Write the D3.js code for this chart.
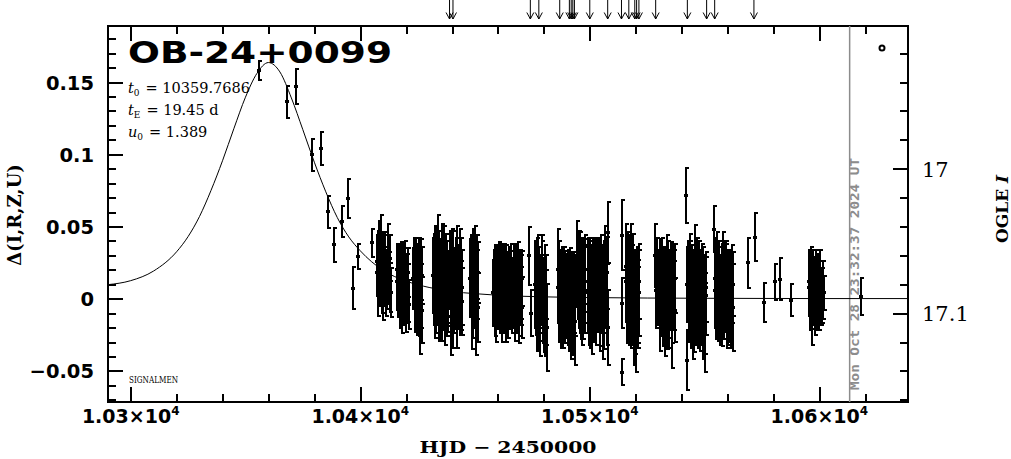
<!DOCTYPE html>
<html><head><meta charset="utf-8">
<script src="https://cdn.jsdelivr.net/npm/d3@7"></script>
<style>body{margin:0;background:#fff}svg{display:block}</style>
</head><body>
<svg id="c" width="1011" height="459"></svg>
<script>
// ---------- data ----------
const eventName = "OB-24+0099";
const params = [["t","0","= 10359.7686"],["t","E","= 19.45 d"],["u","0","= 1.389"]];
const xDomain = [10289.9, 10638.4];
const yDomain = [-0.0715, 0.1888];
const magDomain = [17.1615, 16.9012];
const xMajorTicks = [10300, 10400, 10500, 10600];
const xMinorTicks = [10320,10340,10360,10380,10420,10440,10460,10480,10520,10540,10560,10580,10620];
const yMajorTicks = [-0.05, 0, 0.05, 0.1, 0.15];
const yTickLabels = ["\u22120.05", "0", "0.05", "0.1", "0.15"];
const yMinorTicks = [-0.07,-0.06,-0.04,-0.03,-0.02,-0.01,0.01,0.02,0.03,0.04,0.06,0.07,0.08,0.09,0.11,0.12,0.13,0.14,0.16,0.17,0.18];
const magMajorTicks = [17.0, 17.1];
const magTickLabels = ["17", "17.1"];
const magMinorTicks = [16.92,16.94,16.96,16.98,17.02,17.04,17.06,17.08,17.12,17.14,17.16];
const nowHJD = 10613.2;
const nowLabel = "Mon Oct 28 23:32:37 2024 UT";
const arrowHJD = [10438.9,10440.4,10474.1,10477.8,10486.9,10491.1,10491.9,10492.6,10493.3,10500.0,10507.8,10513.8,10517.0,10519.6,10520.4,10521.4,10528.7,10542.5,10550.9,10554.4,10571.5];

// model curve
const modelT = [10289.9,10300,10310,10320,10325,10330,10335,10340,10345,10350,10355,10360,10365,10370,10375,10380,10385,10390,10395,10400,10410,10420,10430,10440,10450,10460,10480,10500,10550,10600,10638.4];
const modelDelta = [0.0097,0.0125,0.0192,0.0325,0.0430,0.0570,0.0750,0.0955,0.1180,0.1395,0.1560,0.1635,0.1570,0.1390,0.1170,0.0945,0.0740,0.0562,0.0428,0.0332,0.0196,0.0122,0.0078,0.0050,0.0035,0.0024,0.0013,0.0008,0.0003,0.0001,0.0001];

// observations: HJD-2450000, delta flux, error
const hjd = [
10356.1,10368.0,10371.9,10379.1,10382.9,10386.1,10388.7,10391.9,10394.8,10397.0,10398.9,10405.0,
10407.2,10407.6,10408.0,10408.5,10409.0,10409.4,10409.9,10410.3,10410.8,10411.3,10411.8,10412.3,10412.8,10413.2,
10416.0,10416.5,10417.0,10417.5,10418.0,10418.6,10419.1,10419.6,10420.1,10420.6,10421.1,
10423.2,10423.7,10424.2,10424.7,10425.2,10425.7,10426.2,10426.6,10426.9,
10431.8,10432.2,10432.6,10433.0,10433.4,10433.8,10434.2,10434.6,10435.0,10435.4,10435.8,10436.2,10436.6,10437.0,10437.4,10437.8,10438.2,
10439.3,10439.7,10440.1,10440.6,10441.0,10441.5,10442.0,10442.5,10443.0,10443.5,10444.0,10444.5,
10448.0,10448.5,10449.0,10449.5,10450.0,10450.5,10451.0,10451.5,
10458.0,10458.6,10459.2,10459.8,10460.4,10461.0,10461.6,10462.2,10462.8,10463.4,10464.0,10464.6,10465.2,10465.8,10466.3,
10466.8,10467.3,10467.8,10468.4,10469.0,10469.6,10470.1,10470.6,
10473.5,10474.5,
10476.3,10476.8,10477.3,10477.8,10478.3,10478.8,10479.3,10479.8,10480.3,10480.8,10481.2,
10486.0,10486.5,10487.0,10487.6,10488.2,10488.8,10489.4,10490.0,
10490.6,10491.1,10491.6,10492.1,10492.6,10493.1,10493.6,
10494.6,10495.1,10495.6,10496.1,10496.6,10497.1,10497.6,10498.0,
10499.0,10499.5,10500.0,10500.5,10501.0,10501.6,10502.2,10502.8,10503.3,
10503.8,10504.3,10504.8,10505.3,10505.8,10506.3,10506.8,10507.3,10507.8,10508.0,
10514.0,10514.2,10514.1,
10515.6,10516.1,10516.6,10517.1,10517.6,10518.1,10518.6,10519.1,10519.6,10520.1,10520.6,10521.1,10521.6,
10528.2,10528.8,10529.4,
10530.2,10530.8,10531.4,10532.0,10532.6,10533.2,10533.8,10534.4,10535.0,10535.6,10536.2,10536.8,10537.3,
10542.0,10542.2,10542.3,
10542.8,10543.3,10543.8,10544.3,10544.8,10545.3,10545.8,10546.3,10546.8,10547.3,10547.8,10548.3,10548.8,10549.3,10549.8,10550.3,10550.8,
10554.0,
10554.4,10555.0,10555.6,10556.2,10556.8,10557.4,10558.0,10558.6,10559.2,10559.8,10560.4,10561.0,10561.6,10562.2,10562.6,
10568.8,10571.8,10575.8,10580.6,10582.7,10587.5,
10595.4,10596.0,10596.6,10597.2,10597.8,10598.4,10599.0,10599.6,10600.2,10600.8,10601.4,10601.9,
10618.1];
const delta = [
0.158,0.1364,0.1468,0.0995,0.1037,0.0602,0.0372,0.0533,0.0693,0.0074,0.0291,0.0388,
0.018,0.030,0.010,0.024,0.036,0.006,0.020,0.014,0.028,0.002,0.016,0.032,0.008,0.004,
0.012,0.004,0.018,-0.002,0.010,0.020,0.000,0.014,0.006,0.018,-0.004,
0.014,0.004,0.020,-0.006,0.010,0.024,-0.012,0.002,0.016,
0.016,0.004,0.026,-0.004,0.010,0.030,-0.008,0.018,0.002,0.022,-0.010,0.012,0.028,0.000,0.016,-0.006,0.008,
0.020,-0.012,0.006,0.024,-0.004,0.012,0.030,0.002,0.016,-0.006,0.020,0.008,
0.014,-0.010,0.024,0.002,0.030,-0.014,0.010,0.018,
0.004,0.016,-0.006,0.010,0.020,-0.002,0.012,0.006,0.018,-0.008,0.008,0.014,0.000,0.010,-0.004,
0.012,-0.002,0.018,0.004,-0.010,0.010,0.002,0.014,
0.0296,-0.0099,
0.010,-0.008,0.016,0.000,-0.014,0.006,0.020,-0.004,-0.016,0.008,-0.020,
0.020,-0.004,0.012,-0.010,0.004,0.016,-0.006,0.008,
-0.002,0.006,-0.012,0.002,-0.008,0.004,-0.016,
0.024,0.004,0.018,-0.006,0.012,-0.002,0.016,0.006,
0.012,-0.006,0.016,0.000,-0.010,0.010,0.020,-0.004,0.008,
0.014,-0.008,0.020,0.002,-0.012,0.010,0.026,-0.004,0.046,-0.020,
0.044,-0.003,-0.051,
0.022,0.004,0.016,-0.008,0.010,0.026,-0.002,-0.016,0.008,-0.020,0.012,-0.006,0.004,
0.030,0.006,0.012,
0.008,-0.006,0.014,0.000,-0.012,0.010,0.020,-0.004,0.006,-0.016,0.012,0.002,-0.008,
0.0717,0.010,-0.0425,
0.012,-0.004,0.020,0.002,-0.014,0.010,0.030,-0.006,0.016,-0.010,0.006,-0.002,0.014,-0.012,0.004,-0.020,0.008,
0.048,
0.014,-0.004,0.020,0.006,-0.010,0.010,0.022,-0.002,0.008,-0.008,0.012,0.000,0.004,-0.006,0.010,
0.0249,0.0427,-0.0028,0.0118,0.0136,-0.0009,
0.012,0.004,-0.008,0.016,0.002,0.010,-0.002,0.008,0.014,0.000,0.006,0.004,
0.0014];
const sigma = [
0.0064,0.011,0.012,0.011,0.0114,0.011,0.012,0.0107,0.0135,0.0147,0.0087,0.0098,
0.016,0.017,0.015,0.018,0.022,0.016,0.017,0.019,0.016,0.014,0.018,0.020,0.017,0.017,
0.020,0.017,0.020,0.018,0.022,0.019,0.018,0.021,0.023,0.017,0.017,
0.021,0.020,0.022,0.019,0.024,0.018,0.026,0.022,0.020,
0.026,0.022,0.024,0.020,0.025,0.028,0.021,0.023,0.024,0.020,0.019,0.026,0.022,0.022,0.024,0.020,0.025,
0.027,0.027,0.022,0.023,0.020,0.024,0.020,0.023,0.021,0.019,0.022,0.026,
0.027,0.025,0.024,0.022,0.020,0.025,0.024,0.021,
0.023,0.021,0.024,0.026,0.019,0.022,0.025,0.030,0.020,0.022,0.024,0.022,0.021,0.023,0.020,
0.026,0.022,0.020,0.027,0.021,0.024,0.020,0.019,
0.020,0.016,
0.030,0.028,0.028,0.024,0.026,0.024,0.024,0.027,0.024,0.022,0.030,
0.028,0.026,0.022,0.024,0.027,0.020,0.025,0.023,
0.030,0.024,0.030,0.026,0.024,0.028,0.030,
0.030,0.024,0.028,0.022,0.030,0.026,0.025,0.030,
0.030,0.026,0.026,0.030,0.028,0.024,0.022,0.028,0.026,
0.028,0.028,0.024,0.026,0.030,0.030,0.024,0.028,0.021,0.026,
0.024,0.017,0.009,
0.030,0.028,0.030,0.024,0.028,0.026,0.030,0.030,0.026,0.031,0.024,0.028,0.030,
0.022,0.026,0.030,
0.026,0.030,0.028,0.024,0.028,0.026,0.024,0.030,0.028,0.032,0.026,0.024,0.022,
0.019,0.026,0.0208,
0.028,0.026,0.025,0.030,0.028,0.024,0.021,0.026,0.026,0.024,0.028,0.030,0.024,0.030,0.026,0.031,0.024,
0.016,
0.028,0.024,0.026,0.030,0.022,0.028,0.024,0.026,0.030,0.026,0.022,0.030,0.028,0.030,0.022,
0.0173,0.0163,0.0135,0.0125,0.0145,0.011,
0.022,0.026,0.024,0.018,0.020,0.024,0.020,0.016,0.020,0.018,0.020,0.012,
0.013];

// further observations inside the dense nightly groups
const hjdDense = [
10407.4,10407.8,10408.2,10408.8,10409.2,10409.7,10410.1,10410.6,10411.0,10411.6,10412.0,10412.6,10413.0,
10416.2,10416.8,10417.3,10417.8,10418.3,10418.9,10419.4,10419.9,10420.4,10420.9,
10423.4,10423.9,10424.4,10424.9,10425.4,10425.9,10426.4,10426.8,
10432.0,10432.4,10432.8,10433.2,10433.6,10434.0,10434.4,10434.8,10435.2,10435.6,10436.0,10436.4,10436.8,10437.2,10437.6,10438.0,10438.4,
10439.5,10439.9,10440.3,10440.8,10441.3,10441.8,10442.3,10442.8,10443.3,10443.8,10444.3,
10448.3,10448.8,10449.3,10449.8,10450.3,10450.8,10451.3,
10458.3,10458.9,10459.5,10460.1,10460.7,10461.3,10461.9,10462.5,10463.1,10463.7,10464.3,10464.9,10465.5,10466.0,
10466.6,10467.1,10467.6,10468.1,10468.7,10469.3,10469.9,10470.4,
10476.5,10477.0,10477.5,10478.0,10478.5,10479.0,10479.5,10480.0,10480.5,10481.0,
10486.2,10486.8,10487.3,10487.9,10488.5,10489.1,10489.7,
10490.4,10490.9,10491.4,10491.9,10492.4,10492.9,10493.4,
10494.8,10495.3,10495.8,10496.3,10496.8,10497.3,10497.8,
10499.2,10499.7,10500.2,10500.8,10501.3,10501.9,10502.5,10503.0,
10503.6,10504.1,10504.6,10505.1,10505.6,10506.1,10506.6,10507.1,10507.6,
10515.8,10516.3,10516.8,10517.3,10517.8,10518.3,10518.8,10519.3,10519.8,10520.3,10520.8,10521.3,
10530.5,10531.1,10531.7,10532.3,10532.9,10533.5,10534.1,10534.7,10535.3,10535.9,10536.5,10537.0,
10543.0,10543.5,10544.0,10544.5,10545.0,10545.5,10546.0,10546.5,10547.0,10547.5,10548.0,10548.5,10549.0,10549.5,10550.0,10550.5,
10554.7,10555.3,10555.9,10556.5,10557.1,10557.7,10558.3,10558.9,10559.5,10560.1,10560.7,10561.3,10561.9,
10595.7,10596.3,10596.9,10597.5,10598.1,10598.7,10599.3,10599.9,10600.5,10601.1];
const deltaDense = [
0.026,0.004,0.034,0.012,0.022,0.030,0.000,0.018,0.026,0.010,0.022,0.014,0.028,
0.020,0.008,0.014,0.022,-0.004,0.008,0.018,-0.006,0.012,0.004,
0.022,-0.002,0.012,0.018,-0.004,0.008,0.020,-0.008,
0.022,-0.002,0.012,0.024,0.004,0.014,0.026,-0.004,0.010,0.030,0.004,0.020,-0.008,0.024,0.006,0.018,0.000,
0.008,0.026,-0.008,0.014,0.004,0.020,-0.010,0.010,0.026,0.002,-0.002,
0.020,0.006,-0.004,0.016,0.008,0.022,-0.006,
0.012,-0.002,0.016,0.004,0.010,0.018,-0.006,0.012,0.002,0.016,-0.004,0.006,0.018,0.004,
0.004,0.016,-0.006,0.010,0.020,-0.002,0.008,-0.006,
0.002,0.018,-0.010,0.008,-0.004,0.014,0.004,-0.010,0.012,-0.006,
0.008,0.018,0.002,0.012,-0.008,0.010,0.000,
0.008,-0.008,0.010,-0.004,0.006,-0.012,0.002,
0.012,0.020,0.004,0.014,-0.004,0.010,0.020,
0.004,0.014,-0.004,0.010,0.018,-0.002,0.006,0.016,
0.004,0.016,-0.004,0.012,0.004,-0.008,0.014,0.006,0.018,
0.012,-0.004,0.008,0.018,-0.006,0.010,0.016,0.002,-0.010,0.006,-0.002,0.012,
0.014,0.002,-0.006,0.010,0.002,-0.008,0.012,0.000,0.010,-0.004,0.006,0.014,
0.006,0.014,-0.006,0.010,0.002,-0.010,0.012,0.004,-0.004,0.014,-0.008,0.006,0.000,0.010,-0.010,0.002,
0.006,0.012,-0.002,0.014,0.002,-0.006,0.012,0.004,0.014,-0.004,0.006,-0.008,0.010,
0.008,0.014,0.000,0.010,-0.004,0.006,0.012,-0.002,0.008,0.002];
const sigmaDense = [
0.018,0.016,0.020,0.017,0.019,0.016,0.015,0.018,0.020,0.017,0.015,0.018,0.016,
0.018,0.020,0.019,0.017,0.020,0.018,0.022,0.017,0.019,0.020,
0.020,0.021,0.023,0.020,0.022,0.024,0.021,0.023,
0.023,0.025,0.021,0.026,0.022,0.024,0.021,0.025,0.023,0.022,0.024,0.023,0.024,0.021,0.025,0.022,0.023,
0.024,0.022,0.026,0.021,0.025,0.022,0.024,0.023,0.022,0.024,0.023,
0.024,0.025,0.023,0.024,0.026,0.022,0.024,
0.022,0.024,0.021,0.025,0.023,0.020,0.024,0.022,0.025,0.021,0.023,0.024,0.020,0.022,
0.024,0.021,0.023,0.022,0.019,0.024,0.022,0.021,
0.027,0.024,0.026,0.028,0.025,0.026,0.024,0.027,0.025,0.026,
0.025,0.022,0.027,0.024,0.026,0.023,0.027,
0.026,0.028,0.025,0.030,0.026,0.027,0.028,
0.026,0.027,0.028,0.025,0.028,0.027,0.024,
0.028,0.026,0.030,0.027,0.024,0.028,0.026,0.025,
0.027,0.026,0.029,0.025,0.028,0.027,0.028,0.026,0.025,
0.028,0.027,0.029,0.026,0.028,0.027,0.029,0.027,0.028,0.027,0.029,0.026,
0.027,0.028,0.027,0.026,0.029,0.027,0.028,0.027,0.029,0.027,0.028,0.024,
0.027,0.026,0.028,0.027,0.029,0.027,0.028,0.027,0.029,0.026,0.028,0.027,0.029,0.026,0.028,0.027,
0.026,0.028,0.027,0.026,0.028,0.027,0.028,0.027,0.026,0.028,0.027,0.026,0.027,
0.020,0.022,0.021,0.019,0.021,0.020,0.019,0.020,0.018,0.019];

// ---------- drawing ----------
const svg = d3.select("#c");
const L = 107.5, R = 907.5, T = 26, B = 402;
const x = d3.scaleLinear().domain(xDomain).range([L, R]);
const y = d3.scaleLinear().domain(yDomain).range([B, T]);
const yMag = d3.scaleLinear().domain(magDomain).range([B, T]);

svg.append("rect").attr("width",1011).attr("height",459).attr("fill","#fff");
svg.append("defs").append("clipPath").attr("id","clip")
  .append("rect").attr("x",L).attr("y",T).attr("width",R-L).attr("height",B-T);

function styleAxis(g){ g.select(".domain").remove(); g.selectAll("line").attr("stroke","#000").attr("stroke-width",2).attr("shape-rendering","crispEdges"); g.selectAll("text").remove(); }
svg.append("g").attr("transform",`translate(0,${B})`).call(d3.axisBottom(x).tickValues(xMajorTicks).tickSize(-15)).call(styleAxis);
svg.append("g").attr("transform",`translate(0,${B})`).call(d3.axisBottom(x).tickValues(xMinorTicks).tickSize(-8)).call(styleAxis);
svg.append("g").attr("transform",`translate(0,${T})`).call(d3.axisTop(x).tickValues(xMajorTicks).tickSize(-15)).call(styleAxis);
svg.append("g").attr("transform",`translate(0,${T})`).call(d3.axisTop(x).tickValues(xMinorTicks).tickSize(-8)).call(styleAxis);
svg.append("g").attr("transform",`translate(${L},0)`).call(d3.axisLeft(y).tickValues(yMajorTicks).tickSize(-15)).call(styleAxis);
svg.append("g").attr("transform",`translate(${L},0)`).call(d3.axisLeft(y).tickValues(yMinorTicks).tickSize(-8)).call(styleAxis);
svg.append("g").attr("transform",`translate(${R},0)`).call(d3.axisRight(yMag).tickValues(magMajorTicks).tickSize(-15)).call(styleAxis);
svg.append("g").attr("transform",`translate(${R},0)`).call(d3.axisRight(yMag).tickValues(magMinorTicks).tickSize(-8)).call(styleAxis);

svg.append("rect").attr("x",L).attr("y",T).attr("width",R-L).attr("height",B-T)
  .attr("fill","none").attr("stroke","#000").attr("stroke-width",2).attr("shape-rendering","crispEdges");

// x tick labels
const xl = svg.append("g").attr("font-family","DejaVu Sans").attr("font-weight","bold").attr("font-size",19).attr("fill","#000");
xMajorTicks.forEach(v=>{
  const t = xl.append("text").attr("x",x(v)).attr("y",423).attr("text-anchor","middle");
  t.append("tspan").text((v/1e4).toFixed(2)+"\u00d710");
  t.append("tspan").attr("dy",-8).attr("font-size",12).text("4");
});
// y tick labels
const yl = svg.append("g").attr("font-family","DejaVu Sans").attr("font-weight","bold").attr("font-size",19.5).attr("fill","#000");
yMajorTicks.forEach((v,i)=>{
  yl.append("text").attr("x",94).attr("y",y(v)+7.5).attr("text-anchor","end").text(yTickLabels[i]);
});
// right labels
const rl = svg.append("g").attr("font-family","DejaVu Serif").attr("font-size",21).attr("fill","#000");
magMajorTicks.forEach((v,i)=>{
  rl.append("text").attr("x",922).attr("y",yMag(v)+8).text(magTickLabels[i]);
});

// axis titles
svg.append("text").attr("transform","translate(21,215) rotate(-90)").attr("text-anchor","middle")
  .attr("font-family","DejaVu Serif").attr("font-weight","bold").attr("font-size",18).text("\u0394(I,R,Z,U)");
svg.append("text").attr("x",508).attr("y",453).attr("text-anchor","middle")
  .attr("font-family","DejaVu Serif").attr("font-weight","bold").attr("font-size",17)
  .attr("textLength",177).attr("lengthAdjust","spacingAndGlyphs").text("HJD \u2212 2450000");
const ot = svg.append("text").attr("transform","translate(1008,209) rotate(-90)").attr("text-anchor","middle")
  .attr("font-family","DejaVu Serif").attr("font-weight","bold").attr("font-size",17);
ot.append("tspan").text("OGLE ");
ot.append("tspan").attr("font-style","italic").text("I");

// now-line
svg.append("line").attr("x1",x(nowHJD)).attr("x2",x(nowHJD)).attr("y1",T).attr("y2",B)
  .attr("stroke","#8c8c8c").attr("stroke-width",1.5);
svg.append("text").attr("transform",`translate(${x(nowHJD)+9.5},390) rotate(-90)`)
  .attr("font-family","DejaVu Sans Mono").attr("font-weight","bold").attr("font-size",12.5).attr("fill","#8c8c8c")
  .attr("textLength",232).attr("lengthAdjust","spacingAndGlyphs").text(nowLabel);

// model curve
const plot = svg.append("g").attr("clip-path","url(#clip)");
plot.append("path").datum(modelT.map((t,i)=>[t,modelDelta[i]]))
  .attr("fill","none").attr("stroke","#000").attr("stroke-width",1)
  .attr("d", d3.line().x(d=>x(d[0])).y(d=>y(d[1])).curve(d3.curveMonotoneX));

// observations with error bars
const obs = hjd.map((t,i)=>({t, d:delta[i], e:sigma[i]}))
  .concat(hjdDense.map((t,i)=>({t, d:deltaDense[i], e:sigmaDense[i]})))
  .filter(o=>o.d!==undefined && o.e!==undefined);
const pg = plot.append("g").attr("stroke","#000").attr("stroke-width",2).attr("fill","#000").attr("shape-rendering","crispEdges");
obs.forEach(o=>{
  const px = Math.round(x(o.t)), y1 = y(o.d + o.e), y2 = y(o.d - o.e), py = y(o.d);
  pg.append("line").attr("x1",px).attr("x2",px).attr("y1",y1).attr("y2",y2);
  pg.append("line").attr("x1",px-1).attr("x2",px+3).attr("y1",y1).attr("y2",y1);
  pg.append("line").attr("x1",px-1).attr("x2",px+3).attr("y1",y2).attr("y2",y2);
  pg.append("rect").attr("x",px-2).attr("y",py-1.5).attr("width",4).attr("height",3).attr("stroke","none");
});

// title and parameters
svg.append("text").attr("x",128).attr("y",63).attr("font-family","DejaVu Sans").attr("font-weight","bold")
  .attr("font-size",31).attr("textLength",264).attr("lengthAdjust","spacingAndGlyphs").text(eventName);
params.forEach((p,i)=>{
  const t = svg.append("text").attr("x",128).attr("y",93 + i*22).attr("font-family","DejaVu Serif").attr("font-size",14.5);
  t.append("tspan").attr("font-style","italic").text(p[0]);
  t.append("tspan").attr("dy",3).attr("font-size",9).text(p[1]);
  t.append("tspan").attr("dy",-3).attr("dx",6).text(p[2]);
});
svg.append("text").attr("x",129).attr("y",382.5).attr("font-family","DejaVu Serif").attr("font-size",8.5)
  .attr("textLength",49).attr("lengthAdjust","spacingAndGlyphs").text("SIGNALMEN");

svg.append("circle").attr("cx",882).attr("cy",48).attr("r",2.5).attr("fill","none").attr("stroke","#000").attr("stroke-width",2);

// arrows above the frame
const ag = svg.append("g").attr("stroke","#000").attr("stroke-width",1).attr("fill","none");
arrowHJD.forEach(t=>{
  const px = x(t);
  ag.append("line").attr("x1",px).attr("x2",px).attr("y1",0).attr("y2",19);
  ag.append("path").attr("d",`M${px-3.5},12.5L${px},19L${px+3.5},12.5`);
});
</script></body></html>
